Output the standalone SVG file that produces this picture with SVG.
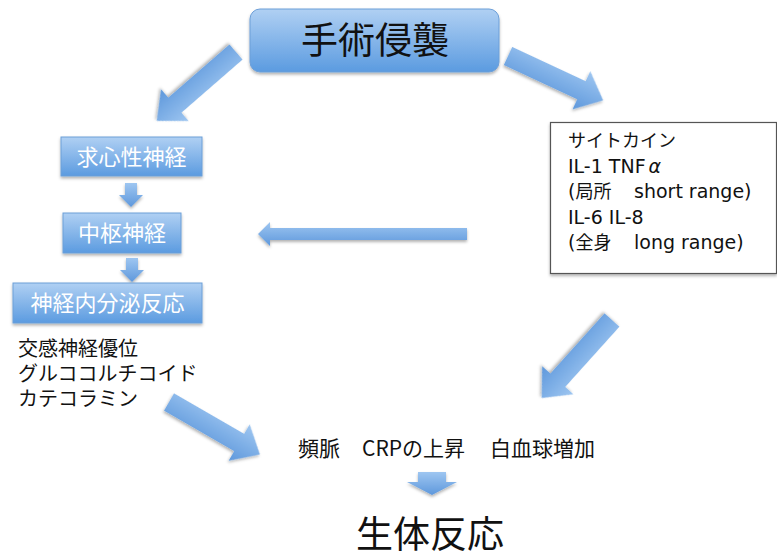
<svg xmlns="http://www.w3.org/2000/svg" xmlns:xlink="http://www.w3.org/1999/xlink" width="777" height="556" viewBox="0 0 777 556">
<style>
.jp{font-family:"Noto Sans CJK JP","Noto Sans",sans-serif;}
.lat{font-family:"DejaVu Sans","Noto Sans CJK JP",sans-serif;font-size:19px;}
.bt{fill:#fff;font-size:22px;text-anchor:middle;}
.bx{fill:url(#boxg);stroke:#6d9fd8;stroke-width:1;filter:url(#sh);}
.ar{fill:url(#arg);filter:url(#sh);}
.tx{fill:#111;font-size:20px;}
.rs{fill:#111;font-size:21px;}
.rt{fill:#111;font-size:18px;white-space:pre;}
</style>
<defs>
<linearGradient id="boxg" x1="0" y1="0" x2="0" y2="1">
<stop offset="0" stop-color="#b0d0f3"/>
<stop offset="1" stop-color="#5b9be0"/>
</linearGradient>
<linearGradient id="arg" x1="0" y1="0" x2="0" y2="1">
<stop offset="0" stop-color="#9ec6f1"/>
<stop offset="1" stop-color="#5e98dc"/>
</linearGradient>
<filter id="sh" x="-20%" y="-20%" width="140%" height="160%">
<feDropShadow dx="0" dy="2" stdDeviation="1.5" flood-color="#000" flood-opacity="0.3"/>
</filter>
<path id="darr" d="M0,-10 H81 V-21 L105,0 L81,21 V10 H0 Z"/>
</defs>
<rect width="777" height="556" fill="#fff"/>

<g id="connectors">
<use href="#darr" class="ar" transform="translate(236,52) rotate(139)"/>
<use href="#darr" class="ar" transform="translate(508,56) rotate(25)"/>
<use href="#darr" class="ar" transform="translate(612,320) rotate(132)"/>
<use href="#darr" class="ar" transform="translate(169,402) rotate(30)"/>
<path class="ar" d="M467,228 H270 V222 L258,234 L270,246 V240 H467 Z"/>
<path class="ar" d="M125,183 H137 V195 H143 L131,207 L119,195 H125 Z"/>
<path class="ar" d="M126,258 H138 V270 H144 L132,282 L120,270 H126 Z"/>
<path class="ar" d="M418,472 H446 V482 H457 L432,495 L407,482 H418 Z"/>
</g>

<g id="n-shujutsu">
<rect class="bx" x="250" y="9" width="249" height="63" rx="10"/>
<text class="jp" x="375" y="54" font-size="37" fill="#111" text-anchor="middle">手術侵襲</text>
</g>

<g id="n-kyushinsei">
<rect class="bx" x="61" y="137" width="141" height="39"/>
<text class="jp bt" x="131.5" y="165">求心性神経</text>
</g>

<g id="n-chusu">
<rect class="bx" x="63" y="213" width="118" height="40"/>
<text class="jp bt" x="122" y="241">中枢神経</text>
</g>

<g id="n-naibunpi">
<rect class="bx" x="13" y="283" width="189" height="40"/>
<text class="jp bt" x="107.5" y="311">神経内分泌反応</text>
</g>

<g id="n-cytokine">
<rect x="550.5" y="122.5" width="226" height="151" fill="#fff" stroke="#555" stroke-width="1.2" filter="url(#sh)"/>
<text class="jp rt" x="568" y="147">サイトカイン</text>
<text class="jp rt" x="568" y="173"><tspan class="lat">IL-1 TNF</tspan><tspan class="lat" font-style="italic" dx="3">α</tspan></text>
<text class="jp rt" x="568" y="198"><tspan class="lat">(</tspan>局所<tspan class="lat" x="634">short range)</tspan></text>
<text class="jp rt" x="568" y="224"><tspan class="lat">IL-6 IL-8</tspan></text>
<text class="jp rt" x="568" y="249"><tspan class="lat">(</tspan>全身<tspan class="lat" x="634">long range)</tspan></text>
</g>

<g id="n-shinkei-text">
<text class="jp tx" x="18" y="356">交感神経優位</text>
<text class="jp tx" x="18" y="381">グルココルチコイド</text>
<text class="jp tx" x="18" y="406">カテコラミン</text>
</g>

<g id="n-result">
<text class="jp rs" y="456"><tspan x="298">頻脈</tspan><tspan x="362">CRPの上昇</tspan><tspan x="490">白血球増加</tspan></text>
</g>

<g id="n-seitai">
<text class="jp" x="430" y="548" font-size="37" fill="#111" text-anchor="middle">生体反応</text>
</g>
</svg>
